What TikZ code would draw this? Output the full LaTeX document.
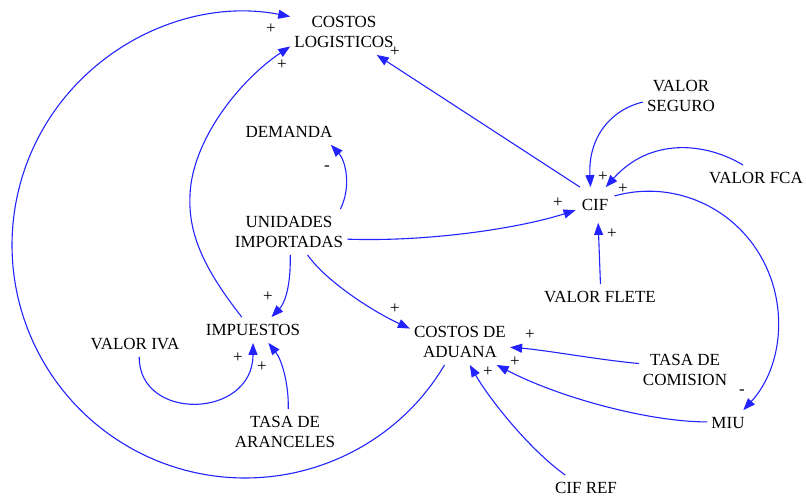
\documentclass[tikz,border=0pt]{standalone}
\usepackage{fontspec}
\setmainfont{Liberation Serif}
\usetikzlibrary{arrows.meta}
\definecolor{linkblue}{RGB}{35,35,255}
\begin{document}
\begin{tikzpicture}[x=1pt,y=-1pt,
  var/.style={align=center, inner xsep=4pt, inner ysep=7pt,
              font=\fontsize{17}{20}\selectfont},
  link/.style={draw=linkblue, line width=1.1pt,
               -{Triangle[length=12pt,width=9pt]}},
  sign/.style={font=\fontsize{17}{20}\selectfont, inner sep=0pt}]
\useasboundingbox (0,0) rectangle (806,499);

% variables
\node[var] (cl)     at (344,32)  {COSTOS\\LOGISTICOS};
\node[var] (dem)    at (289,132) {DEMANDA};
\node[var] (ui)     at (289,232) {UNIDADES\\IMPORTADAS};
\node[var, inner xsep=6pt, inner ysep=12pt] (cif) at (595,205) {CIF};
\node[var] (vs)     at (681,96)  {VALOR\\SEGURO};
\node[var] (fca)    at (756,178) {VALOR FCA};
\node[var] (flete)  at (600,297) {VALOR FLETE};
\node[var] (imp)    at (253,330) {IMPUESTOS};
\node[var] (iva)    at (135,344) {VALOR IVA};
\node[var] (tar)    at (285,432) {TASA DE\\ARANCELES};
\node[var] (cda)    at (460,342) {COSTOS DE\\ADUANA};
\node[var] (tcom)   at (685,370) {TASA DE\\COMISION};
\node[var] (miu)    at (728,423) {MIU};
\node[var] (cifref) at (586,488) {CIF REF};

% causal links
\draw[link] (cda.236) .. controls (401.0,438.8) and (318.5,482.6) .. (231.6,477.6)
  .. controls (144.7,472.6) and (67.8,419.5) .. (32.3,340.1)
  .. controls (-3.2,260.7) and (8.5,168.1) .. (62.7,100.0)
  .. controls (116.9,31.9) and (204.5,-0.3) .. (cl.164);
\draw[link] (imp.131) .. controls (205,270) and (188,235) .. (190,195)
  .. controls (192,140) and (240,80) .. (cl.195);
\draw[link] (cif.130) -- (cl.-35);
\draw[link] (ui.24) .. controls (352,185) and (345,160) .. (dem.-17);
\draw[link] (ui.-7) .. controls (430,242) and (520,228) .. (cif.195);
\draw[link] (ui.-87) .. controls (291,285) and (285,303) .. (imp.35);
\draw[link] (ui.-51) .. controls (325,280) and (370,310) .. (cda.165);
\draw[link] (vs.189) .. controls (610,110) and (588,138) .. (cif.104);
\draw[link] (fca.135) .. controls (705,142) and (650,137.5) .. (cif.59);
\draw[link] (flete.88) -- (cif.-80);
\draw[link] (cif.25) .. controls (670,180.3) and (729.4,204.2) .. (759.4,254)
  .. controls (789.4,303.8) and (782.6,367.4) .. (miu.40);
\draw[link] (tcom.172) .. controls (600,360) and (545,350) .. (cda.-6);
\draw[link] (miu.177) .. controls (650,422) and (560,398) .. (cda.-32);
\draw[link] (cifref.148) .. controls (530,450) and (490,400) .. (cda.-67);
\draw[link] (iva.-72) .. controls (139,422) and (253,419) .. (imp.-90);
\draw[link] (tar.82) .. controls (289,385) and (282,360) .. (imp.-40);

% polarities
\node[sign] (s1)  at (271,29)  {+};
\node[sign] (s2)  at (282,65)  {+};
\node[sign] (s3)  at (395,52)  {+};
\node[sign] (s4)  at (327,168) {-};
\node[sign] (s5)  at (558,203) {+};
\node[sign] (s6)  at (268,297) {+};
\node[sign] (s7)  at (395,309) {+};
\node[sign] (s8)  at (603,177) {+};
\node[sign] (s9)  at (623,189) {+};
\node[sign] (s10) at (612,234) {+};
\node[sign] (s11) at (742,392) {-};
\node[sign] (s12) at (530,335) {+};
\node[sign] (s13) at (515,362) {+};
\node[sign] (s14) at (488,372) {+};
\node[sign] (s15) at (238,358) {+};
\node[sign] (s16) at (262,367) {+};
\end{tikzpicture}
\end{document}
